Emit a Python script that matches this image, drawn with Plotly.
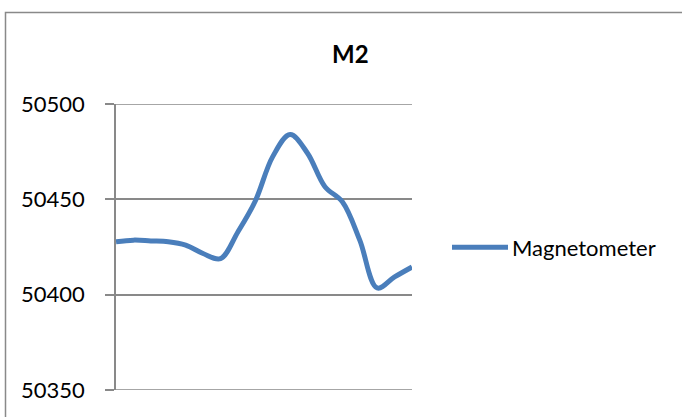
import plotly.graph_objects as go

# Magnetometer readings (nT) at equally spaced sample positions
samples = list(range(18))
magnetometer = [
    50427.7, 50428.6, 50428.2, 50427.8, 50426.0, 50421.6,
    50418.9, 50432.9, 50449.1, 50472.4, 50484.0, 50474.2,
    50456.6, 50448.7, 50428.6, 50403.5, 50409.3, 50414.5,
]
y_ticks = [50350, 50400, 50450, 50500]
series_name = "Magnetometer"
chart_title = "M2"

LINE_BLUE = "#4a7ebb"
GRID_GRAY = "#898989"
FONT = "Lato"

W, H = 682, 417
L, R, T, B = 116, 270, 104, 27
PW, PH = W - L - R, H - T - B
TICK_LEN = 9


def px_x(px):
    return (px - L) / PW


def px_y(py):
    return (H - B - py) / PH


fig = go.Figure()
fig.add_trace(go.Scatter(
    x=samples,
    y=magnetometer,
    mode="lines",
    name=series_name,
    line=dict(color=LINE_BLUE, width=5, shape="spline", smoothing=1.0),
    showlegend=False,
))

# the outermost gridlines sit on the plot edges, so draw them explicitly
edge_lines = [
    dict(
        type="line", xref="paper", yref="y",
        x0=px_x(L - TICK_LEN), x1=1, y0=v, y1=v,
        line=dict(color=GRID_GRAY, width=1.5),
        layer="below",
    )
    for v in (y_ticks[0], y_ticks[-1])
]

fig.update_layout(
    width=W,
    height=H,
    margin=dict(l=L, r=R, t=T, b=B, pad=0),
    paper_bgcolor="white",
    plot_bgcolor="white",
    font=dict(family=FONT, color="#000000"),
    xaxis=dict(
        range=[samples[0], samples[-1]],
        showgrid=False,
        showline=False,
        zeroline=False,
        showticklabels=False,
        ticks="",
    ),
    yaxis=dict(
        range=[y_ticks[0], y_ticks[-1]],
        tickvals=y_ticks,
        ticktext=[str(v) for v in y_ticks],
        showgrid=True,
        gridcolor=GRID_GRAY,
        gridwidth=1.5,
        zeroline=False,
        showline=True,
        linecolor=GRID_GRAY,
        linewidth=1.5,
        ticks="outside",
        ticklen=TICK_LEN,
        tickwidth=1.5,
        tickcolor=GRID_GRAY,
        ticklabelstandoff=16,
        tickfont=dict(family=FONT, size=22, color="#000000"),
    ),
    annotations=[
        dict(
            text="<b>" + chart_title + "</b>",
            xref="paper", yref="paper",
            x=px_x(350), y=px_y(53),
            xanchor="center", yanchor="middle",
            showarrow=False,
            font=dict(family=FONT, size=24, color="#000000"),
        ),
        dict(
            text=series_name,
            xref="paper", yref="paper",
            x=px_x(510), y=px_y(247),
            xanchor="left", yanchor="middle",
            showarrow=False,
            font=dict(family=FONT, size=22, color="#000000"),
        ),
    ],
    shapes=[
        # chart frame
        dict(
            type="rect", xref="paper", yref="paper",
            x0=px_x(5.5), x1=px_x(700), y0=px_y(440), y1=px_y(12.5),
            line=dict(color=GRID_GRAY, width=1.5),
            fillcolor="rgba(0,0,0,0)",
            layer="below",
        ),
        *edge_lines,
        # legend key
        dict(
            type="line", xref="paper", yref="paper",
            x0=px_x(452), x1=px_x(508), y0=px_y(247.3), y1=px_y(247.3),
            line=dict(color=LINE_BLUE, width=5),
        ),
    ],
)

fig.write_html("out.html")
